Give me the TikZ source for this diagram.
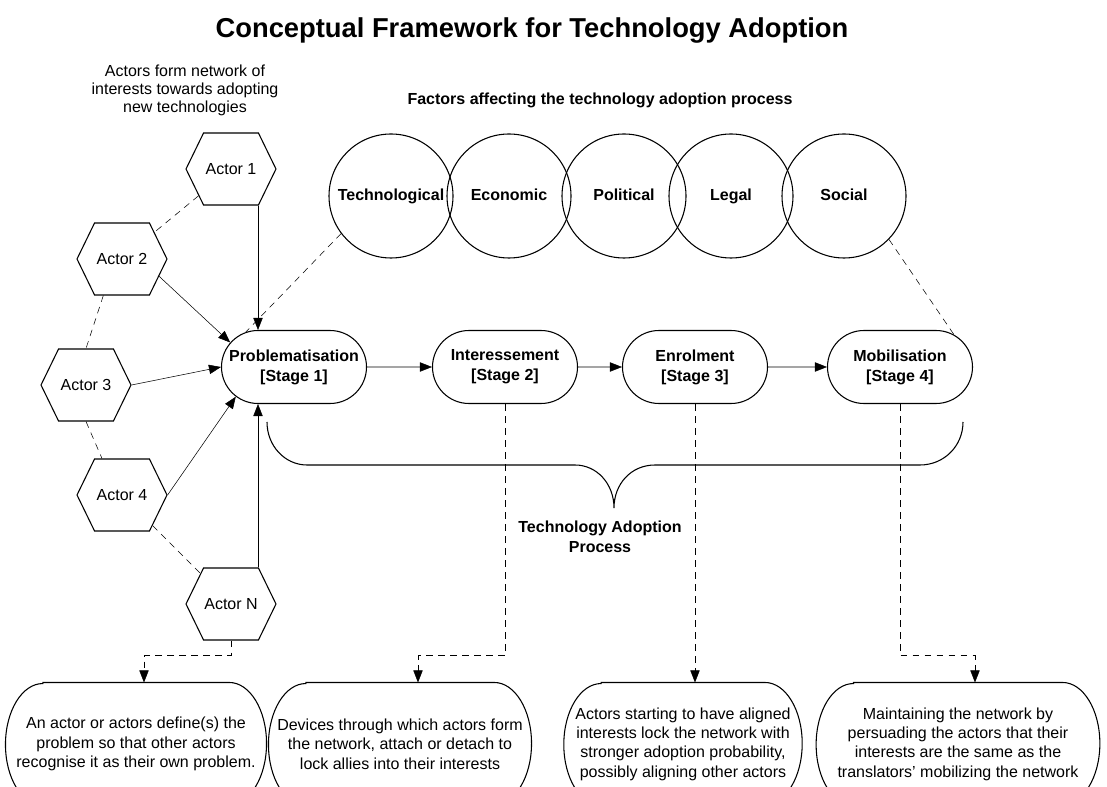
\documentclass[tikz,border=0pt]{standalone}
\usepackage{fontspec}
\setmainfont{Liberation Sans}
\usetikzlibrary{arrows.meta,shapes.misc,shapes.symbols}
\pgfdeclarelayer{bg}
\pgfsetlayers{bg,main}
\tikzset{
    actor/.style={signal, signal to=west and east, signal pointer angle=128, draw, minimum width=67.5pt, minimum height=54pt, inner sep=0pt, font=\fontsize{12}{15}\selectfont},
    factor/.style={circle, draw, minimum size=93pt, inner sep=0pt, text height=8.8pt, text depth=2.6pt, font=\bfseries\fontsize{12}{15}\selectfont},
    stage/.style={rounded rectangle, draw, minimum width=108.75pt, minimum height=54.75pt, inner sep=0pt, align=center, font=\bfseries\fontsize{12}{15}\selectfont},
    note/.style={rectangle, minimum width=#1, minimum height=91.5pt, inner sep=0pt, align=center, font=\fontsize{12}{14.5}\selectfont},
    caption/.style={align=center, inner sep=0pt, font=\fontsize{12}{13.5}\selectfont},
    dashedline/.style={dash pattern=on 5pt off 4pt},
    solidarrow/.style={-{Triangle[length=9pt,width=7pt]}},
    dasharrow/.style={dashedline, -{Triangle[length=9pt,width=7pt]}}
}

\begin{document}
\begin{tikzpicture}[x=0.75pt, y=-0.75pt, line width=0.8pt]
        \useasboundingbox (0,0) rectangle (1107,787);
        \clip (0,0) rectangle (1107,787);
        % titles
        \node (title) [inner sep=0pt, font=\bfseries\fontsize{20.5}{24}\selectfont] at (532, 30) {Conceptual Framework for Technology Adoption};
        \node (actcap) [caption] at (185, 90) {Actors form network of\\interests towards adopting\\new technologies};
        \node (faccap) [caption, font=\bfseries\fontsize{12}{15}\selectfont] at (600, 100) {Factors affecting the technology adoption process};
        % actors
        \node (a1) [actor] at (231, 169) {Actor 1};
        \node (a2) [actor] at (122, 259) {Actor 2};
        \node (a3) [actor] at (86, 385) {Actor 3};
        \node (a4) [actor] at (122, 495) {Actor 4};
        \node (aN) [actor] at (231, 604) {Actor N};
        % factors
        \node (tech) [factor] at (391, 196) {Technological};
        \node (econ) [factor] at (509, 196) {Economic};
        \node (pol) [factor] at (624, 196) {Political};
        \node (legal) [factor] at (731, 196) {Legal};
        \node (social) [factor] at (844, 196) {Social};
        % stages
        \node (prob) [stage] at (294, 367) {Problematisation\\{[Stage 1]}};
        \node (inter) [stage] at (505, 367) {Interessement\\{[Stage 2]}};
        \node (enrol) [stage] at (695, 367) {Enrolment\\{[Stage 3]}};
        \node (mob) [stage] at (900, 367) {Mobilisation\\{[Stage 4]}};
        \node (tap) [caption, font=\bfseries\fontsize{12}{15}\selectfont] at (600, 537) {Technology Adoption\\Process};
        % notes
        \node (n1) [note=195pt] at (136, 744) {An actor or actors define(s) the\\problem so that other actors\\recognise it as their own problem.};
        \node (n2) [note=196.5pt] at (400, 744) {Devices through which actors form\\the network, attach or detach to\\lock allies into their interests};
        \node (n3) [note=178pt] at (683, 744) {Actors starting to have aligned\\interests lock the network with\\stronger adoption probability,\\possibly aligning other actors};
        \node (n4) [note=212pt] at (958, 744) {Maintaining the network by\\persuading the actors that their\\interests are the same as the\\translators' mobilizing the network};
        \foreach \n in {n1,n2,n3,n4}
                \draw ([xshift=28pt]\n.north west) -- ([xshift=-28pt]\n.north east)
                        arc[start angle=90, end angle=-90, x radius=28pt, y radius=45.75pt]
                        -- ([xshift=28pt]\n.south west)
                        arc[start angle=270, end angle=90, x radius=28pt, y radius=45.75pt] -- cycle;
        % brace
        \draw (267,422) .. controls (267,446) and (285,465) .. (307,465) -- (575,465)
                .. controls (597,465) and (614,484) .. (614,508)
                .. controls (614,484) and (631,465) .. (655,465) -- (920,465)
                .. controls (944,465) and (963,446) .. (963,422);
        \begin{pgfonlayer}{bg}
                \draw (a1) edge [dashedline] (a2);
                \draw ([xshift=-14pt]a2.south) edge [dashedline] (a3.north);
                \draw (a3.south) edge [dashedline] ([xshift=-15pt]a4.north);
                \draw (a4) edge [dashedline] (aN);
                \draw ([xshift=20.25pt]a1.south) edge [solidarrow] ([xshift=20.25pt]a1.south |- prob.north);
                \draw (a2.-25) edge [solidarrow] (prob.159);
                \draw (a3.east) edge [solidarrow] (prob.west);
                \draw (a4.east) edge [solidarrow] (prob.207);
                \draw ([xshift=20.25pt]aN.north) edge [solidarrow] ([xshift=20.25pt]aN.north |- prob.south);
                \draw (tech.217) edge [dashedline] (prob.144);
                \draw (social.-44) edge [dashedline] (mob.31);
                \draw (prob) edge [solidarrow] (inter);
                \draw (inter) edge [solidarrow] (enrol);
                \draw (enrol) edge [solidarrow] (mob);
                \draw [dasharrow] (aN.south) -- ++(0,15) -| ([xshift=6pt]n1.north);
                \draw [dasharrow] (inter.south) -- ++(0,251.5) -| ([xshift=13.5pt]n2.north);
                \draw [dasharrow] (enrol.south) -- (enrol.south |- n3.north);
                \draw [dasharrow] (mob.south) -- ++(0,251.5) -| ([xshift=12.75pt]n4.north);
        \end{pgfonlayer}
\end{tikzpicture}
\end{document}
